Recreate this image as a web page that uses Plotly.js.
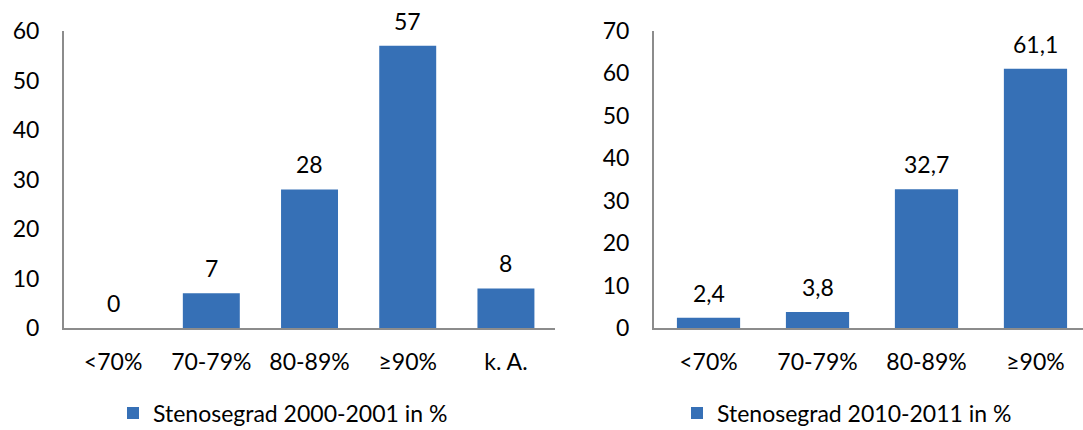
<!DOCTYPE html>
<html>
<head>
<meta charset="utf-8">
<script src="https://cdn.plot.ly/plotly-3.0.1.min.js"></script>
<style>
  html, body { margin: 0; padding: 0; background: #fff; }
  #chart { width: 1083px; height: 430px; }
</style>
</head>
<body>
<div id="chart"></div>
<script>
// Stenosis grade distribution, two periods
const categories2000 = ['<70%', '70-79%', '80-89%', '≥90%', 'k. A.'];
const values2000 = [0, 7, 28, 57, 8];
const seriesName2000 = 'Stenosegrad 2000-2001 in %';

const categories2010 = ['<70%', '70-79%', '80-89%', '≥90%'];
const values2010 = [2.4, 3.8, 32.7, 61.1];
const seriesName2010 = 'Stenosegrad 2010-2011 in %';

const yTicks2000 = [0, 10, 20, 30, 40, 50, 60];
const yTicks2010 = [0, 10, 20, 30, 40, 50, 60, 70];

const FONT = 'Lato, "Open Sans", sans-serif';
const FS = 23;
const BAR_COLOR = '#3670b6';
const AXIS_COLOR = '#8c8c8c';

// German decimal comma for value labels
const fmt = v => String(v).replace('.', ',');

const traces = [
  {
    type: 'bar', x: categories2000, y: values2000, name: seriesName2000,
    xaxis: 'x', yaxis: 'y', width: 0.58, legend: 'legend',
    marker: { color: BAR_COLOR }, hoverinfo: 'x+y'
  },
  {
    type: 'bar', x: categories2010, y: values2010, name: seriesName2010,
    xaxis: 'x2', yaxis: 'y2', width: 0.58, legend: 'legend2',
    marker: { color: BAR_COLOR }, hoverinfo: 'x+y'
  }
];

// value labels above each bar
const annotations = [];
categories2000.forEach((c, i) => annotations.push({
  xref: 'x', yref: 'y', x: c, y: values2000[i], text: fmt(values2000[i]),
  showarrow: false, yanchor: 'bottom', yshift: 9,
  font: { family: FONT, size: FS, color: '#000' }
}));
categories2010.forEach((c, i) => annotations.push({
  xref: 'x2', yref: 'y2', x: c, y: values2010[i], text: fmt(values2010[i]),
  showarrow: false, yanchor: 'bottom', yshift: 9,
  font: { family: FONT, size: FS, color: '#000' }
}));

const xCommon = {
  type: 'category', showgrid: false, zeroline: false, showline: true,
  linecolor: AXIS_COLOR, linewidth: 2, ticks: '', ticklabelstandoff: 12,
  tickfont: { family: FONT, size: FS, color: '#000' }, fixedrange: true
};
const yCommon = {
  showgrid: false, zeroline: false, showline: true,
  linecolor: AXIS_COLOR, linewidth: 2, ticks: '', ticklabelstandoff: 18,
  tickfont: { family: FONT, size: FS, color: '#000' }, fixedrange: true
};

const legendCommon = {
  y: 17 / 430, yanchor: 'middle', xanchor: 'left',
  orientation: 'h', bgcolor: 'rgba(0,0,0,0)', itemwidth: 30,
  font: { family: FONT, size: FS, color: '#000' }
};

const layout = {
  width: 1083, height: 430,
  // fixed margins: the legends below the axes must not shrink the plot area
  margin: { l: 0, r: 0, t: 0, b: 0, autoexpand: false },
  paper_bgcolor: '#fff', plot_bgcolor: '#fff',
  font: { family: FONT, size: FS, color: '#000' },
  showlegend: true,
  xaxis: Object.assign({}, xCommon, { domain: [0.0591, 0.5125], range: [-0.5, 4.5], anchor: 'y' }),
  yaxis: Object.assign({}, yCommon, { domain: [0.2372, 0.9279], range: [0, 60], tickvals: yTicks2000, anchor: 'x' }),
  xaxis2: Object.assign({}, xCommon, { domain: [0.6039, 1], range: [-0.5, 3.436], anchor: 'y2' }),
  yaxis2: Object.assign({}, yCommon, { domain: [0.2372, 0.9279], range: [0, 70], tickvals: yTicks2010, anchor: 'x2' }),
  legend: Object.assign({}, legendCommon, { x: 113 / 1083 }),
  legend2: Object.assign({}, legendCommon, { x: 677 / 1083 }),
  annotations: annotations,
  bargap: 0.42
};

Plotly.newPlot('chart', traces, layout, { displayModeBar: false, staticPlot: true });
</script>
</body>
</html>
